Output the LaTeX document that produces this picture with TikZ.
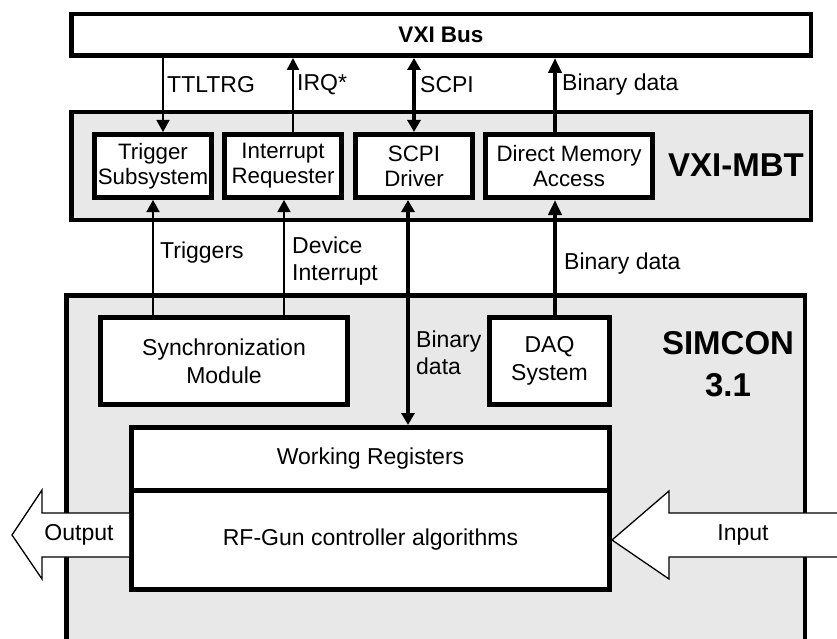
\documentclass[tikz,border=0pt]{standalone}
\usepackage{fontspec}
\setmainfont{Liberation Sans}
\usetikzlibrary{arrows.meta}

\definecolor{panelgray}{HTML}{E8E8E8}

\tikzset{
  txt/.style={font=\fontsize{23}{27}\selectfont},
  panel/.style={draw, line width=4.5pt, fill=panelgray, inner sep=0pt},
  unit/.style={draw, line width=5pt, fill=white, inner sep=0pt, align=center, txt},
  smallunit/.style={unit, font=\fontsize{22.3}{25}\selectfont},
  bigtitle/.style={font=\fontsize{33}{42}\selectfont\bfseries, align=center},
  thinlink/.style={line width=1.5pt, -{Triangle[length=12pt,width=13pt]}},
  midlink/.style={line width=2.4pt, -{Triangle[length=12pt,width=12pt]}},
  thicklink/.style={line width=4pt, -{Triangle[length=15pt,width=13pt]}},
  thickboth/.style={line width=4pt, {Triangle[length=12pt,width=13pt]}-{Triangle[length=12pt,width=13pt]}},
  lbl/.style={txt, anchor=west, inner sep=0pt, align=left},
  bigarrow/.style={draw, line width=1.3pt, fill=white, line join=miter}
}

\begin{document}
\begin{tikzpicture}[x=1pt,y=-1pt]
\useasboundingbox (0,0) rectangle (837,639);
\clip (0,0) rectangle (837,639);

% VXI bus bar
\node[draw, line width=4.5pt, fill=white, minimum width=739.5pt, minimum height=41.5pt,
      inner sep=0pt, font=\fontsize{22.5}{26}\selectfont\bfseries]
      (bus) at (441,35) {VXI Bus};

% VXI-MBT carrier
\node[panel, minimum width=739.5pt, minimum height=107.5pt] (mbt) at (441,166) {};
\node[bigtitle] (mbtname) at (736,165) {VXI-MBT};

\node[smallunit, minimum width=117pt, minimum height=63pt] (trig) at (153,166) {Trigger\\Subsystem};
\node[smallunit, minimum width=117pt, minimum height=63pt] (intr) at (283,166) {Interrupt\\Requester};
\node[smallunit, minimum width=117pt, minimum height=63pt] (scpi) at (414,166) {SCPI\\Driver};
\node[smallunit, minimum width=167pt, minimum height=63pt] (dma) at (569,166) {Direct Memory\\Access};

% SIMCON 3.1 board (runs past the lower edge)
\node[panel, minimum width=738.5pt, minimum height=405pt] (simcon) at (435.5,497.75) {};
\node[bigtitle] (simconname) at (728,364) {SIMCON\\3.1};

\node[unit, font=\fontsize{23}{28}\selectfont, minimum width=247pt, minimum height=87pt] (sync) at (224,361) {Synchronization\\Module};
\node[unit, font=\fontsize{23}{28}\selectfont, minimum width=120pt, minimum height=87pt] (daq) at (549.5,361) {DAQ\\System};

\node[unit, minimum width=478pt, minimum height=63pt] (wreg) at (370.5,459) {Working Registers};
\node[unit, minimum width=478pt, minimum height=99pt] (rf) at (370.5,540) {RF-Gun controller algorithms};

% Output and input block arrows
\draw[bigarrow] (rf.west |- 0,513) -- (42,513) -- (42,490) -- (12,535) -- (42,579) -- (42,557) -- (rf.west |- 0,557);
\draw[bigarrow] (rf.east) -- (669,491) -- (669,513) -- (850,513) -- (850,557) -- (669,557) -- (669,579) -- cycle;
\node[txt] (outlbl) at (79,535) {Output};
\node[txt] (inlbl) at (743,535) {Input};

% connector columns
\coordinate (xtt) at (163,0);
\coordinate (xirq) at (293,0);
\coordinate (xscpi) at (414,0);
\coordinate (xdma) at (555,0);
\coordinate (xtrg) at (153,0);
\coordinate (xdev) at (284,0);
\coordinate (xbin) at (408,0);

% bus <-> VXI-MBT
\draw[thinlink] (bus.south -| xtt) -- (trig.north -| xtt);
\draw[midlink] (intr.north -| xirq) -- (bus.south -| xirq);
\draw[thickboth] (bus.south -| xscpi) -- (scpi.north -| xscpi);
\draw[thicklink] (dma.north -| xdma) -- (bus.south -| xdma);

\node[lbl] (l1) at (167,85) {TTLTRG};
\node[lbl] (l2) at (297,85) {IRQ*};
\node[lbl] (l3) at (420,85) {SCPI};
\node[lbl] (l4) at (562,85) {Binary data};

% VXI-MBT <-> SIMCON
\draw[thinlink] (sync.north -| xtrg) -- (trig.south -| xtrg);
\draw[thinlink] (sync.north -| xdev) -- (intr.south -| xdev);
\draw[thickboth] (scpi.south -| xbin) -- (wreg.north -| xbin);
\draw[thicklink] (daq.north -| xdma) -- (dma.south -| xdma);

\node[lbl] (l5) at (160,253) {Triggers};
\node[lbl] (l6) at (292,261) {Device\\Interrupt};
\node[lbl] (l7) at (416,353) {Binary\\data};
\node[lbl] (l8) at (564,264) {Binary data};
\end{tikzpicture}
\end{document}
